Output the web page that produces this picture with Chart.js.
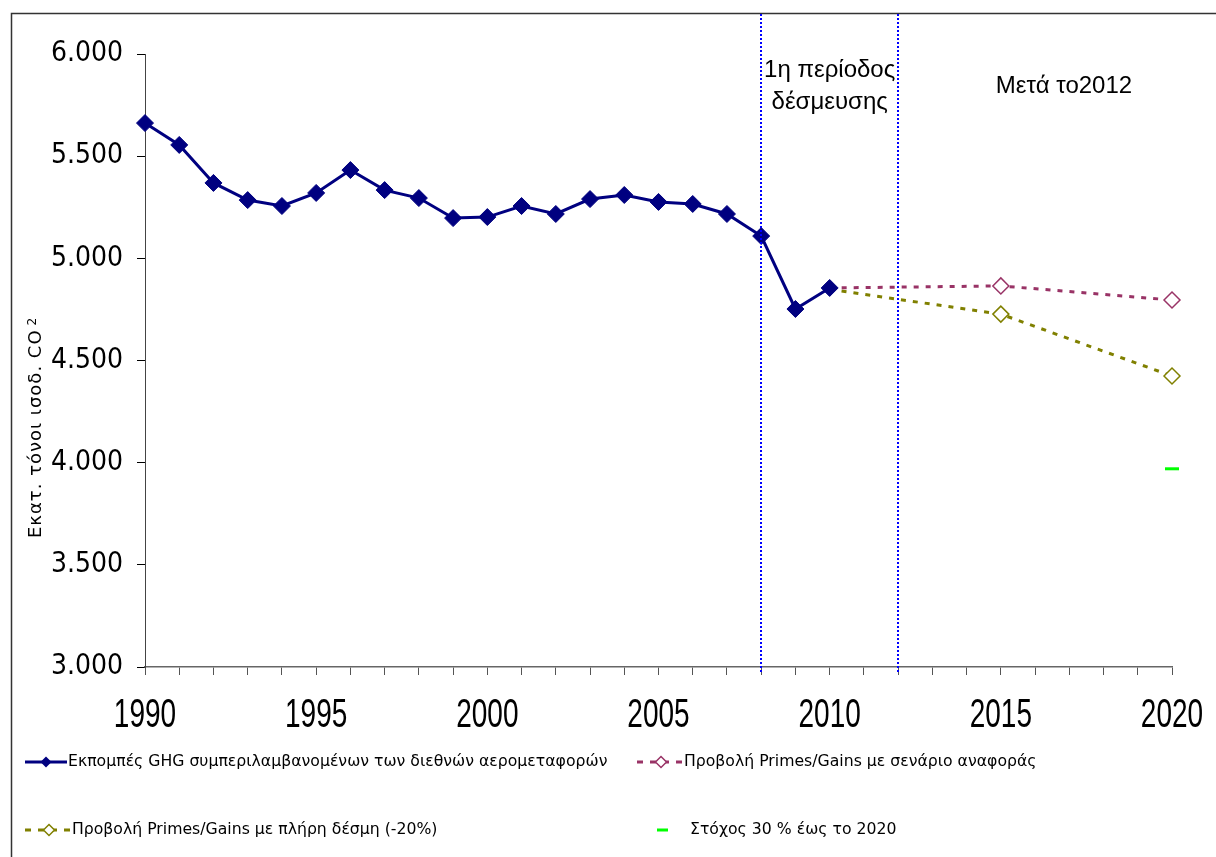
<!DOCTYPE html>
<html>
<head>
<meta charset="utf-8">
<script src="https://cdn.jsdelivr.net/npm/chart.js@4.4.0/dist/chart.umd.min.js"></script>
<style>
  html, body { margin: 0; padding: 0; background: #fff; }
  #wrap { width: 1216px; height: 857px; position: relative; }
</style>
</head>
<body>
<div id="wrap"><canvas id="ghg-chart"></canvas></div>
<script>
// Data (million t CO2 eq)
const years = [1990, 1991, 1992, 1993, 1994, 1995, 1996, 1997, 1998, 1999, 2000,
               2001, 2002, 2003, 2004, 2005, 2006, 2007, 2008, 2009, 2010];
const emissions = [5662, 5555, 5369, 5285, 5256, 5320, 5432, 5334, 5295, 5197, 5202,
                   5256, 5217, 5290, 5310, 5276, 5266, 5217, 5109, 4752, 4855];
const projYears = [2010, 2015, 2020];
const refScenario = [4855, 4865, 4796];
const fullCommitment = [4848, 4727, 4424];
const targetYears = [2020];
const targetValues = [3970];
const xTickLabels = [1990, 1995, 2000, 2005, 2010, 2015, 2020];
const periodBounds = [2008, 2012];
const seriesNames = [
  'Εκπομπές GHG συμπεριλαμβανομένων των διεθνών αερομεταφορών',
  'Προβολή Primes/Gains με σενάριο αναφοράς',
  'Προβολή Primes/Gains με πλήρη δέσμη (-20%)',
  'Στόχος 30 % έως το 2020'
];

const NAVY = '#000080';
const MAROON = '#993366';
const OLIVE = '#808000';
const GREEN = '#00ff00';

function toPoints(xs, ys) {
  return xs.map((x, i) => ({ x: x, y: ys[i] }));
}

// outer frame, period lines, annotations, y title
const decorPlugin = {
  id: 'decor',
  afterDraw(chart) {
    const { ctx, scales } = chart;
    const { x, y } = scales;

    ctx.save();
    ctx.strokeStyle = '#333';
    ctx.lineWidth = 1.5;
    ctx.strokeRect(11.5, 13.5, 1300, 900);

    // commitment period boundaries
    ctx.strokeStyle = '#0000ff';
    ctx.lineWidth = 2;
    ctx.setLineDash([2, 2]);
    periodBounds.forEach(v => {
      const px = Math.round(x.getPixelForValue(v));
      ctx.beginPath();
      ctx.moveTo(px, 14);
      ctx.lineTo(px, y.bottom + 5);
      ctx.stroke();
    });
    ctx.setLineDash([]);

    // annotations
    ctx.fillStyle = '#000';
    ctx.font = '24px "Liberation Sans", Arial, sans-serif';
    ctx.textAlign = 'center';
    ctx.textBaseline = 'alphabetic';
    const midPeriod = (x.getPixelForValue(periodBounds[0]) + x.getPixelForValue(periodBounds[1])) / 2;
    ctx.fillText('1η περίοδος', midPeriod, 77);
    ctx.fillText('δέσμευσης', midPeriod, 109);
    ctx.fillText('Μετά το2012', 1064, 93);

    // y axis title
    ctx.translate(41, 538);
    ctx.rotate(-Math.PI / 2);
    ctx.textAlign = 'left';
    ctx.font = '18px "DejaVu Sans", sans-serif';
    ctx.letterSpacing = '1px';
    const main = 'Εκατ. τόνοι ισοδ. CO';
    ctx.fillText(main, 0, 0);
    const w = ctx.measureText(main).width;
    ctx.font = '12px "DejaVu Sans", sans-serif';
    ctx.fillText('2', w + 4, -5);
    ctx.restore();

    // x tick labels, tall narrow digits
    ctx.save();
    ctx.fillStyle = '#000';
    ctx.font = '28px "Liberation Sans", Arial, sans-serif';
    ctx.textAlign = 'center';
    ctx.textBaseline = 'alphabetic';
    xTickLabels.forEach(v => {
      ctx.save();
      ctx.translate(x.getPixelForValue(v), 727);
      ctx.scale(1, 1.42);
      ctx.fillText(String(v), 0, 0);
      ctx.restore();
    });
    ctx.restore();
  }
};

function diamond(ctx, cx, cy, r, fill, stroke) {
  ctx.beginPath();
  ctx.moveTo(cx, cy - r);
  ctx.lineTo(cx + r, cy);
  ctx.lineTo(cx, cy + r);
  ctx.lineTo(cx - r, cy);
  ctx.closePath();
  ctx.fillStyle = fill;
  ctx.fill();
  if (stroke) {
    ctx.lineWidth = 1.5;
    ctx.strokeStyle = stroke;
    ctx.stroke();
  }
}

// legend drawn in two columns like the original
const legendPlugin = {
  id: 'legend2col',
  afterDraw(chart) {
    const { ctx } = chart;
    ctx.save();
    ctx.font = '15.7px "DejaVu Sans", sans-serif';
    ctx.textBaseline = 'middle';
    ctx.textAlign = 'left';

    // 1: emissions
    let yy = 762;
    ctx.strokeStyle = NAVY;
    ctx.lineWidth = 3;
    ctx.beginPath(); ctx.moveTo(25, yy); ctx.lineTo(67, yy); ctx.stroke();
    diamond(ctx, 46, yy, 5.5, NAVY);
    ctx.fillStyle = '#000';
    ctx.fillText(seriesNames[0], 68, yy);

    // 2: reference scenario
    ctx.strokeStyle = MAROON;
    ctx.lineWidth = 3;
    ctx.setLineDash([6, 7]);
    ctx.beginPath(); ctx.moveTo(637, yy); ctx.lineTo(684, yy); ctx.stroke();
    ctx.setLineDash([]);
    diamond(ctx, 661, yy, 5.5, '#fff', MAROON);
    ctx.fillStyle = '#000';
    ctx.fillText(seriesNames[1], 684, yy);

    // 3: full package
    yy = 830;
    ctx.strokeStyle = OLIVE;
    ctx.lineWidth = 3;
    ctx.setLineDash([6, 7]);
    ctx.beginPath(); ctx.moveTo(25, yy); ctx.lineTo(72, yy); ctx.stroke();
    ctx.setLineDash([]);
    diamond(ctx, 49, yy, 5.5, '#fff', OLIVE);
    ctx.fillStyle = '#000';
    ctx.fillText(seriesNames[2], 72, yy);

    // 4: target
    ctx.strokeStyle = GREEN;
    ctx.lineWidth = 3;
    ctx.beginPath(); ctx.moveTo(657, yy); ctx.lineTo(668, yy); ctx.stroke();
    ctx.fillStyle = '#000';
    ctx.fillText(seriesNames[3], 690, yy);
    ctx.restore();
  }
};

const ctx = document.getElementById('ghg-chart').getContext('2d');
new Chart(ctx, {
  type: 'line',
  data: {
    datasets: [{
      label: seriesNames[0],
      data: toPoints(years, emissions),
      borderColor: NAVY,
      backgroundColor: NAVY,
      borderWidth: 3,
      pointStyle: 'rectRot',
      pointRadius: 8.5,
      pointBackgroundColor: NAVY,
      pointBorderColor: NAVY,
      pointBorderWidth: 1,
      tension: 0,
      clip: false
    }, {
      label: seriesNames[1],
      data: toPoints(projYears, refScenario),
      borderColor: MAROON,
      borderWidth: 3,
      borderDash: [5, 7],
      pointStyle: 'rectRot',
      pointRadius: [0, 8, 8],
      pointBackgroundColor: '#fff',
      pointBorderColor: MAROON,
      pointBorderWidth: 1.5,
      tension: 0,
      clip: false
    }, {
      label: seriesNames[2],
      data: toPoints(projYears, fullCommitment),
      borderColor: OLIVE,
      borderWidth: 3,
      borderDash: [5, 7],
      pointStyle: 'rectRot',
      pointRadius: [0, 8, 8],
      pointBackgroundColor: '#fff',
      pointBorderColor: OLIVE,
      pointBorderWidth: 1.5,
      tension: 0,
      clip: false
    }, {
      label: seriesNames[3],
      data: toPoints(targetYears, targetValues),
      showLine: false,
      pointStyle: 'line',
      pointRadius: 7,
      pointBorderWidth: 3,
      pointBorderColor: GREEN,
      borderColor: GREEN,
      clip: false
    }]
  },
  options: {
    responsive: true,
    maintainAspectRatio: false,
    animation: false,
    devicePixelRatio: 1,
    layout: { padding: { left: 0, right: 44, top: 54, bottom: 0 } },
    scales: {
      x: {
        type: 'linear',
        min: 1990,
        max: 2020,
        afterFit(scale) { scale.height = 190; },
        ticks: { stepSize: 1, autoSkip: false, maxTicksLimit: 100, display: false },
        grid: { drawOnChartArea: false, drawTicks: true, tickLength: 8, color: '#555' },
        border: { color: '#666', width: 1.5 }
      },
      y: {
        min: 3000,
        max: 6000,
        afterFit(scale) { scale.width = 145; },
        ticks: {
          stepSize: 500,
          padding: 14,
          color: '#000',
          font: { family: '"DejaVu Sans Condensed", "DejaVu Sans", sans-serif', size: 28 },
          callback: v => v.toLocaleString('de-DE')
        },
        grid: { drawOnChartArea: false, drawTicks: true, tickLength: 8, color: '#000' },
        border: { color: '#444', width: 1 }
      }
    },
    plugins: {
      legend: { display: false },
      tooltip: { enabled: false }
    }
  },
  plugins: [decorPlugin, legendPlugin]
});
</script>
</body>
</html>
